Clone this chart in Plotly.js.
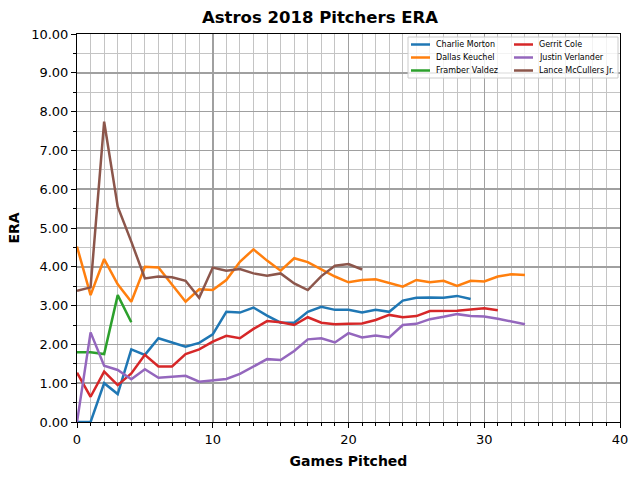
<!DOCTYPE html>
<html>
<head>
<meta charset="utf-8">
<script src="https://cdn.plot.ly/plotly-3.0.1.min.js"></script>
<style>
  html, body { margin: 0; padding: 0; background: #fff; }
  #plot { width: 640px; height: 480px; }
</style>
</head>
<body>
<div id="plot"></div>
<script>
// ERA after each game
const morton = [0.00, 0.00, 1.00, 0.72, 1.87, 1.73, 2.16, 2.04, 1.94, 2.04, 2.26, 2.84, 2.82, 2.95, 2.74, 2.56, 2.56, 2.84, 2.97, 2.89, 2.89, 2.82, 2.89, 2.84, 3.13, 3.20, 3.21, 3.20, 3.25, 3.17];
const keuchel = [4.52, 3.27, 4.20, 3.55, 3.10, 4.00, 3.98, 3.53, 3.10, 3.42, 3.40, 3.66, 4.13, 4.45, 4.16, 3.90, 4.22, 4.12, 3.94, 3.75, 3.60, 3.66, 3.68, 3.59, 3.49, 3.66, 3.60, 3.64, 3.51, 3.64, 3.62, 3.75, 3.81, 3.79];
const valdez = [1.80, 1.80, 1.75, 3.27, 2.57];
const cole = [1.27, 0.65, 1.30, 0.95, 1.25, 1.73, 1.43, 1.43, 1.75, 1.87, 2.07, 2.22, 2.16, 2.40, 2.60, 2.57, 2.50, 2.70, 2.56, 2.52, 2.53, 2.54, 2.63, 2.76, 2.70, 2.73, 2.86, 2.87, 2.87, 2.90, 2.93, 2.88];
const verlander = [0.00, 2.31, 1.45, 1.34, 1.10, 1.36, 1.14, 1.17, 1.19, 1.04, 1.08, 1.11, 1.24, 1.44, 1.62, 1.60, 1.83, 2.13, 2.16, 2.05, 2.29, 2.18, 2.23, 2.18, 2.50, 2.53, 2.65, 2.71, 2.78, 2.73, 2.72, 2.66, 2.59, 2.52];
const mccullers = [3.38, 3.47, 7.74, 5.55, 4.65, 3.70, 3.75, 3.73, 3.64, 3.20, 3.98, 3.90, 3.94, 3.83, 3.77, 3.83, 3.57, 3.40, 3.76, 4.03, 4.07, 3.93];

const pitchers = [
    {name: "Charlie Morton", era: morton, color: "#1f77b4"},
    {name: "Dallas Keuchel", era: keuchel, color: "#ff7f0e"},
    {name: "Framber Valdez", era: valdez, color: "#2ca02c"},
    {name: "Gerrit Cole", era: cole, color: "#d62728"},
    {name: "Justin Verlander", era: verlander, color: "#9467bd"},
    {name: "Lance McCullers Jr.", era: mccullers, color: "#8c564b"}
];

const traces = pitchers.map(p => ({
    type: "scatter",
    mode: "lines",
    name: p.name,
    x: p.era.map((_, i) => i),
    y: p.era,
    line: {color: p.color, width: 2.5},
    hoverinfo: "skip"
}));

// plot area in pixels (for the two-column legend box)
const L = 77, R = 620, T = 34, B = 422;
const px = x => (x - L) / (R - L);
const py = y => (B - y) / (B - T);

// legend: 2 columns x 3 rows, matplotlib style
const shapes = [{
    type: "rect", xref: "paper", yref: "paper", layer: "above",
    x0: px(408), x1: px(618), y0: py(78), y1: py(37),
    fillcolor: "rgba(255,255,255,0.8)",
    line: {color: "#cccccc", width: 1}
}];
const annotations = [];
pitchers.forEach((p, i) => {
    const col = Math.floor(i / 3), row = i % 3;
    const x0 = col === 0 ? 411 : 514;
    const yc = 44.5 + row * 13;
    shapes.push({
        type: "line", xref: "paper", yref: "paper", layer: "above",
        x0: px(x0), x1: px(x0 + 19), y0: py(yc), y1: py(yc),
        line: {color: p.color, width: 2.5}
    });
    annotations.push({
        xref: "paper", yref: "paper",
        x: px(x0 + 23), y: py(yc),
        xanchor: "left", yanchor: "middle",
        text: p.name, showarrow: false,
        font: {family: "DejaVu Sans, sans-serif", size: 8, color: "#000"}
    });
});

const font = {family: "DejaVu Sans, sans-serif", size: 13, color: "#000"};
const titleFont = {family: "DejaVu Sans, sans-serif", size: 14, color: "#000"};

Plotly.newPlot("plot", traces, {
    width: 640,
    height: 480,
    margin: {l: L, r: 640 - R, t: T, b: 480 - B},
    paper_bgcolor: "#fff",
    plot_bgcolor: "#fff",
    font: font,
    showlegend: false,
    shapes: shapes,
    annotations: annotations,
    title: {
        text: "<b>Astros 2018 Pitchers ERA</b>",
        font: {family: "DejaVu Sans, sans-serif", size: 16.5, color: "#000"},
        x: 0.5, xanchor: "center",
        y: 0.965, yanchor: "middle"
    },
    xaxis: {
        range: [0, 40],
        dtick: 10,
        tick0: 0,
        ticks: "outside",
        ticklen: 5,
        tickcolor: "#000",
        showline: true,
        linecolor: "#000",
        linewidth: 1,
        mirror: true,
        showgrid: true,
        gridcolor: "#a0a0a0",
        gridwidth: 1.5,
        zeroline: false,
        title: {text: "<b>Games Pitched</b>", font: titleFont, standoff: 10},
        minor: {dtick: 1, ticks: "outside", ticklen: 3, tickcolor: "#000", showgrid: true, gridcolor: "#c4c4c4", gridwidth: 1}
    },
    yaxis: {
        range: [0, 10],
        dtick: 1,
        tick0: 0,
        tickformat: ".2f",
        ticks: "outside",
        ticklen: 5,
        tickcolor: "#000",
        showline: true,
        linecolor: "#000",
        linewidth: 1,
        mirror: true,
        showgrid: true,
        gridcolor: "#a0a0a0",
        gridwidth: 1.5,
        zeroline: false,
        title: {text: "<b>ERA</b>", font: titleFont, standoff: 8},
        minor: {dtick: 0.5, ticks: "outside", ticklen: 3, tickcolor: "#000", showgrid: true, gridcolor: "#c4c4c4", gridwidth: 1}
    }
}, {staticPlot: true});
</script>
</body>
</html>
